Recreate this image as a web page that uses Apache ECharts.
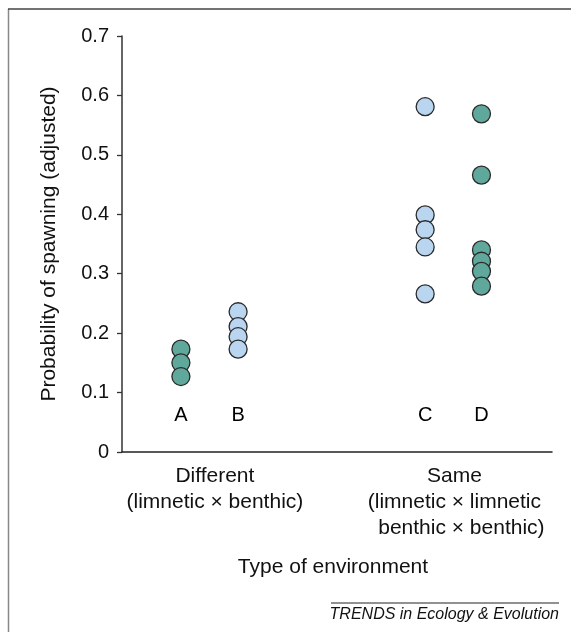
<!DOCTYPE html>
<html>
<head>
<meta charset="utf-8">
<script src="https://cdn.jsdelivr.net/npm/echarts@6/dist/echarts.min.js"></script>
<style>html,body{margin:0;padding:0;background:#fff}#c{width:571px;height:632px}</style>
</head>
<body>
<div id="c"></div>
<script>
// Group labels and their x positions
var groups = ['A', 'B', 'C', 'D'];
var groupX = [1.37, 2.7, 7.05, 8.36];
// Values (probability of spawning, adjusted)
var valuesA = [0.173, 0.150, 0.127];
var valuesB = [0.236, 0.211, 0.194, 0.173];
var valuesC = [0.581, 0.399, 0.374, 0.345, 0.266];
var valuesD = [0.569, 0.466, 0.340, 0.321, 0.304, 0.279];
var letterY = 0.061;
// Environment categories on x axis
var envLabels = ['Different', 'Same'];
var envX = [2.16, 7.73];
var yTicks = [0, 0.1, 0.2, 0.3, 0.4, 0.5, 0.6, 0.7];

var teal = '#5fa89b', blue = '#b9d5f0';
function pts(i, arr) { return arr.map(function (v) { return [groupX[i], v]; }); }

var chart = echarts.init(document.getElementById('c'));
var font = 'Liberation Sans, Arial, Helvetica, sans-serif';
var pointStyle = function (c) { return { color: c, borderColor: '#2a2a2a', borderWidth: 1.3, opacity: 1 }; };

chart.setOption({
  animation: false,
  textStyle: { fontFamily: font },
  grid: { left: 122, right: 19, top: 36, bottom: 180 },
  xAxis: {
    type: 'value', min: 0, max: 10,
    splitLine: { show: false },
    axisLine: { show: true, lineStyle: { color: '#222', width: 1.5 } },
    axisTick: { show: false },
    axisLabel: {
      customValues: envX,
      margin: 11,
      color: '#111', fontSize: 21, lineHeight: 26,
      formatter: function (v) {
        var i = envX.indexOf(v);
        if (i === 0) return envLabels[0] + '\n(limnetic × benthic)';
        if (i === 1) return envLabels[1] + '\n(limnetic × limnetic\n{b|benthic × benthic)}';
        return '';
      },
      rich: { b: { fontSize: 21, color: '#111', padding: [0, 0, 0, 14], fontFamily: font, lineHeight: 26 } }
    },
    name: 'Type of environment',
    nameLocation: 'middle', nameGap: 105,
    nameTextStyle: { fontSize: 21, color: '#111', padding: [0, 8, 0, 0] }
  },
  yAxis: {
    type: 'value', min: 0, max: 0.7, interval: 0.1,
    splitLine: { show: false },
    axisLine: { show: true, lineStyle: { color: '#333', width: 1.5 } },
    axisTick: { show: true, length: 5, lineStyle: { color: '#333', width: 1.3 } },
    axisLabel: {
      margin: 13, fontSize: 20, color: '#111',
      formatter: function (v) { var r = yTicks.filter(function (t) { return Math.abs(t - v) < 1e-9; }); return r.length ? String(r[0]) : ''; }
    },
    name: 'Probability of spawning (adjusted)',
    nameLocation: 'middle', nameGap: 62, nameRotate: 90,
    nameTextStyle: { fontSize: 21, color: '#111' }
  },
  series: [
    { type: 'scatter', symbolSize: 18, data: pts(0, valuesA), itemStyle: pointStyle(teal), z: 3 },
    { type: 'scatter', symbolSize: 18, data: pts(1, valuesB), itemStyle: pointStyle(blue), z: 3 },
    { type: 'scatter', symbolSize: 18, data: pts(2, valuesC), itemStyle: pointStyle(blue), z: 3 },
    { type: 'scatter', symbolSize: 18, data: pts(3, valuesD), itemStyle: pointStyle(teal), z: 3 },
    {
      type: 'scatter', symbolSize: 1, itemStyle: { color: '#ffffff', borderWidth: 0, opacity: 1 },
      data: groups.map(function (g, i) { return { value: [groupX[i], letterY], name: g }; }),
      label: { show: true, position: 'inside', formatter: '{b}', fontSize: 20, color: '#000', opacity: 1, fontFamily: font },
      emphasis: { disabled: true },
      silent: true, z: 4
    }
  ],
  graphic: [
    { type: 'line', shape: { x1: 8.5, y1: 9, x2: 8.5, y2: 632 }, style: { stroke: '#888', lineWidth: 1.5 } },
    { type: 'line', shape: { x1: 8, y1: 9, x2: 571, y2: 9 }, style: { stroke: '#444', lineWidth: 1.3 } },
    { type: 'line', shape: { x1: 331, y1: 603, x2: 559, y2: 603 }, style: { stroke: '#222', lineWidth: 1 } },
    { type: 'text', right: 12, top: 607, style: { text: 'TRENDS in Ecology & Evolution', font: 'italic 16px ' + font, fill: '#111' } }
  ]
});
</script>
</body>
</html>
